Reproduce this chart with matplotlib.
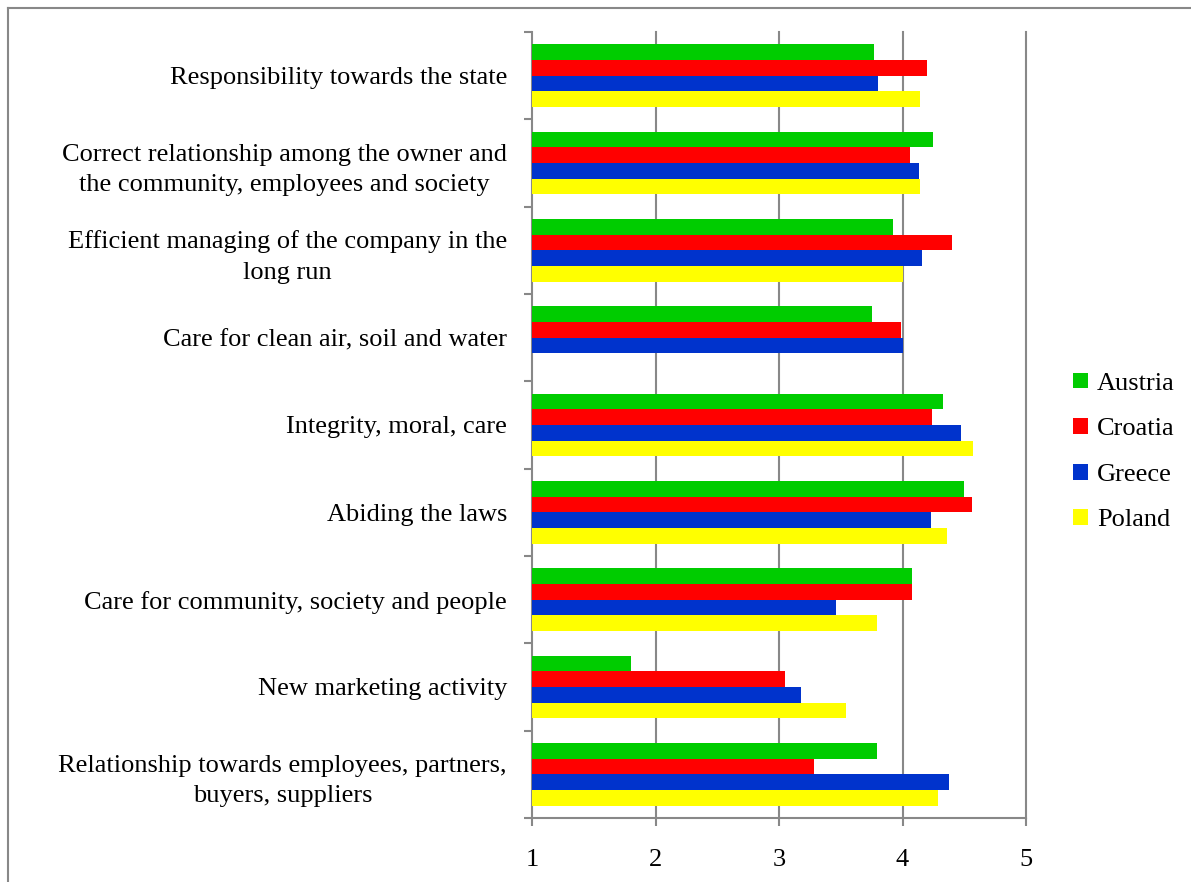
import matplotlib
matplotlib.use("Agg")
import matplotlib.pyplot as plt
import numpy as np
from matplotlib.patches import Patch
from matplotlib.lines import Line2D

categories = [
    "Relationship towards employees, partners,\nbuyers, suppliers",
    "New marketing activity",
    "Care for community, society and people",
    "Abiding the laws",
    "Integrity, moral, care",
    "Care for clean air, soil and water",
    "Efficient managing of the company in the\nlong run",
    "Correct relationship among the owner and\nthe community, employees and society",
    "Responsibility towards the state",
]
austria = [3.79, 1.80, 4.08, 4.50, 4.33, 3.75, 3.92, 4.25, 3.77]
croatia = [3.28, 3.05, 4.08, 4.56, 4.24, 3.99, 4.40, 4.06, 4.20]
greece  = [4.38, 3.18, 3.46, 4.23, 4.47, 4.00, 4.16, 4.13, 3.80]
poland  = [4.29, 3.54, 3.79, 4.36, 4.57, np.nan, 4.00, 4.14, 4.14]
series_names = ["Austria", "Croatia", "Greece", "Poland"]
colors = ["#00CC00", "#FF0000", "#0033CC", "#FFFF00"]
xticks = [1, 2, 3, 4, 5]

plt.rcParams['font.family'] = ['Liberation Serif', 'DejaVu Serif']

fig = plt.figure(figsize=(11.91, 8.82), dpi=100)
ax = fig.add_axes([532/1191, 1 - 818/882, (1026-532)/1191, (818-32)/882])

n = len(categories)
y = np.arange(n)
bh = 0.18
data = [austria, croatia, greece, poland]
offsets = [1.5*bh, 0.5*bh, -0.5*bh, -1.5*bh]
for vals, col, off, name in zip(data, colors, offsets, series_names):
    v = np.array(vals, dtype=float)
    ax.barh(y + off, v - 1, left=1, height=bh, color=col, label=name, zorder=3)

ax.set_xlim(1, 5)
ax.set_ylim(-0.5, n - 0.5)
gray = "#888888"
for xv in xticks[1:]:
    ax.axvline(xv, color=gray, lw=1.5, zorder=1, clip_on=False)

for s in ["top", "right"]:
    ax.spines[s].set_visible(False)
for s in ["left", "bottom"]:
    ax.spines[s].set_color(gray)
    ax.spines[s].set_linewidth(1.5)

fs = 19
ax.set_xticks(xticks)
ax.set_xticklabels([str(t) for t in xticks])
ax.tick_params(axis='x', length=6, width=1.5, color=gray, pad=16, labelsize=fs)
ax.set_yticks(y)
ax.set_yticklabels(categories, multialignment='center', linespacing=1.5)
ax.tick_params(axis='y', which='major', length=0, pad=18, labelsize=fs)
ax.set_yticks(np.arange(-0.5, n, 1.0), minor=True)
ax.tick_params(axis='y', which='minor', length=6, width=1.5, color=gray)

handles = [Patch(facecolor=c, label=nm) for c, nm in zip(colors, series_names)]
fig.legend(handles=handles, loc='center left', bbox_to_anchor=(1068/1191, 1 - 452/882),
           frameon=False, fontsize=fs, handlelength=0.55, handleheight=0.55,
           handletextpad=0.35, labelspacing=0.88, borderaxespad=0, borderpad=0.2)

fig.add_artist(Line2D([8/1191, 8/1191], [0, 1 - 8/882], transform=fig.transFigure,
                      color=gray, lw=1.5))
fig.add_artist(Line2D([8/1191, 1], [1 - 8/882, 1 - 8/882], transform=fig.transFigure,
                      color=gray, lw=1.5))

fig.savefig("out.png", dpi=100)
